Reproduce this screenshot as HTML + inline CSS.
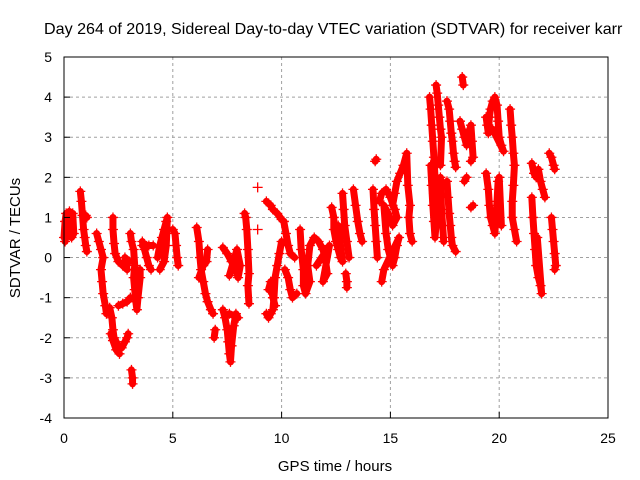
<!DOCTYPE html>
<html><head><meta charset="utf-8"><style>
body{margin:0;background:#fff;overflow:hidden}
svg{display:block;font-family:"Liberation Sans",sans-serif}
</style></head><body>
<svg id="chart" width="640" height="480" viewBox="0 0 640 480">
<rect width="640" height="480" fill="#fff"/>
<text x="44" y="34" font-size="16.1" fill="#000">Day 264 of 2019, Sidereal Day-to-day VTEC variation (SDTVAR) for receiver karr</text>
<g id="grid"></g>
<g id="marks"></g>
<rect x="64" y="57" width="544" height="361" fill="none" stroke="#000" stroke-width="1"/>
<g id="ticks"></g>
<text x="335" y="471" font-size="15" text-anchor="middle">GPS time / hours</text>
<text transform="translate(20,238) rotate(-90)" font-size="15" text-anchor="middle">SDTVAR / TECUs</text>
</svg>
<script>
const xTicks=[0,5,10,15,20,25];
const yTicks=[-4,-3,-2,-1,0,1,2,3,4,5];
// each track: array of [hour, sdtvar]
const tracks=[
[[0,0.5],[0.05,0.9],[0.1,1.1],[0.2,1.0],[0.3,0.8],[0.4,1.1],[0.45,0.6],[0.35,0.5],[0.15,0.6],[0.25,1.15],[0.05,0.4]],
[[0.75,1.65],[0.8,1.4],[0.85,1.05],[0.9,0.7],[0.95,0.5],[1.0,0.3],[1.05,0.15]],
[[1.0,1.05],[1.05,1.0]],
[[1.5,0.6],[1.6,0.4],[1.7,0.2],[1.8,0.0],[1.7,-0.3],[1.75,-0.6],[1.8,-0.9],[1.9,-1.2],[1.95,-1.4]],
[[2.1,-1.25],[2.2,-1.5],[2.25,-1.8],[2.3,-2.0],[2.4,-2.1],[2.5,-2.3],[2.65,-2.25],[2.8,-2.1],[2.9,-2.0],[2.95,-1.9]],
[[2.15,-1.9],[2.25,-2.07],[2.4,-2.3],[2.55,-2.4]],
[[2.25,1.0],[2.25,0.7],[2.3,0.35],[2.35,0.1],[2.5,-0.1],[2.7,-0.2],[2.9,-0.3],[2.8,0.0],[3.0,-0.1]],
[[2.5,-1.2],[2.7,-1.15],[2.9,-1.1],[3.05,-1.0]],
[[3.05,0.6],[3.1,0.4],[3.2,0.2],[3.25,-0.2],[3.2,-0.5],[3.25,-0.8],[3.3,-1.1],[3.35,-1.3],[3.4,-1.0],[3.5,-0.5],[3.5,-0.3]],
[[3.1,-2.8],[3.15,-3.0],[3.15,-3.15]],
[[3.6,0.4],[3.7,0.2],[3.8,0.0],[3.9,-0.2],[4.0,-0.3]],
[[3.6,0.3],[3.9,0.3],[4.1,0.3]],
[[4.3,0.0],[4.4,0.3],[4.5,0.5],[4.6,0.7],[4.7,0.9],[4.75,1.0],[4.7,0.3],[4.6,-0.1],[4.4,-0.3]],
[[5.0,0.7],[5.1,0.6],[5.15,0.3],[5.2,0.0],[5.25,-0.2]],
[[6.1,0.75],[6.2,0.4],[6.25,0.0],[6.3,-0.3],[6.4,-0.6],[6.5,-0.9],[6.6,-1.1],[6.75,-1.3],[6.85,-1.4]],
[[6.2,-0.5],[6.4,-0.2],[6.55,-0.1],[6.6,0.2]],
[[6.9,-2.0],[6.95,-1.8]],
[[7.3,0.25],[7.5,0.1],[7.7,-0.1],[7.9,-0.3],[8.0,-0.5],[8.1,-0.2],[7.95,0.2],[7.6,-0.45]],
[[7.3,-1.3],[7.4,-1.5],[7.5,-1.8],[7.55,-2.1],[7.6,-2.4],[7.65,-2.6],[7.7,-2.2],[7.8,-1.7],[7.9,-1.4],[8.0,-1.5],[7.6,-1.4]],
[[8.3,1.1],[8.35,1.0],[8.4,0.7],[8.45,0.2],[8.5,-0.4],[8.45,-0.7],[8.5,-1.15]],
[[8.9,1.75]],[[8.9,0.7]],
[[9.3,1.4],[9.4,1.35],[9.5,1.3],[9.6,1.2],[9.8,1.1],[10.0,0.95],[10.1,0.9]],
[[9.3,-1.4],[9.4,-1.5],[9.5,-1.4],[9.6,-1.3],[9.65,-1.0],[9.7,-0.5],[9.8,-0.2],[9.9,0.1],[10.0,0.4]],
[[9.4,-0.8],[9.5,-0.6],[9.6,-1.0],[9.7,-1.2]],
[[10.1,0.9],[10.2,0.6],[10.3,0.3],[10.4,0.1],[10.6,0.0]],
[[10.15,-0.3],[10.3,-0.5],[10.4,-0.8],[10.5,-1.0],[10.7,-0.9]],
[[10.85,0.7],[10.9,0.2],[11.0,-0.3],[11.0,-0.7],[11.1,-0.9],[11.3,-0.6],[11.2,-0.2],[11.3,0.3],[11.5,0.5],[11.7,0.4],[11.9,0.2],[12.0,0.0],[12.1,-0.4],[11.9,-0.6],[12.2,0.3],[11.6,-0.2]],
[[12.3,1.25],[12.4,1.0],[12.4,0.7],[12.5,0.4],[12.6,0.2],[12.7,0.0],[12.8,-0.1],[12.6,0.8]],
[[12.8,1.6],[12.85,1.2],[12.9,0.8],[13.0,0.4],[13.1,0.0]],
[[12.95,-0.4],[13.0,-0.6],[13.0,-0.75]],
[[13.3,1.7],[13.4,1.3],[13.5,0.9],[13.6,0.6],[13.7,0.4]],
[[14.3,2.4],[14.35,2.45]],
[[14.2,1.7],[14.25,1.2],[14.3,0.8],[14.35,0.4],[14.4,0.0]],
[[14.5,1.4],[14.6,1.6],[14.8,1.7],[15.0,1.5],[15.2,1.2],[15.3,1.0],[15.1,0.8],[14.9,1.1],[14.7,1.3],[14.8,0.6],[14.9,0.2],[15.0,0.0],[15.1,-0.2],[15.2,0.0],[15.3,0.3],[15.4,0.5],[14.7,-0.3],[14.6,-0.6]],
[[15.1,1.3],[15.2,1.6],[15.3,1.9],[15.45,2.1],[15.6,2.3],[15.75,2.6],[15.8,1.8],[15.9,1.3],[15.85,1.0],[15.9,0.6],[16.0,0.4]],
[[16.8,4.0],[16.85,3.7],[16.9,3.3],[16.95,2.9],[17.0,2.5],[17.05,2.0],[17.0,1.6],[17.05,1.3],[17.1,1.0]],
[[17.1,4.3],[17.15,4.1],[17.2,3.8],[17.25,3.5],[17.3,3.2],[17.35,3.0],[17.3,2.3]],
[[16.85,2.3],[16.9,1.8],[16.95,1.3],[17.0,0.9],[17.05,0.5],[17.2,1.5],[17.3,2.0],[17.35,1.2],[17.4,0.8],[17.45,0.4]],
[[17.6,3.9],[17.7,3.7],[17.75,3.4],[17.8,3.1],[17.85,2.9],[17.9,2.6],[17.95,2.4],[18.0,2.25]],
[[17.6,1.9],[17.65,1.5],[17.7,1.1],[17.75,0.8],[17.8,0.5],[17.85,0.3],[18.0,0.15]],
[[18.3,4.5],[18.35,4.3]],
[[18.2,3.4],[18.3,3.2],[18.4,3.0],[18.5,2.8],[18.6,3.1],[18.7,3.3],[18.75,2.9],[18.8,2.5],[18.7,2.4]],
[[18.4,1.9],[18.5,2.0]],[[18.7,1.25],[18.8,1.3]],
[[19.4,3.5],[19.45,3.3],[19.5,3.1],[19.55,3.5],[19.6,3.7],[19.7,3.9],[19.8,4.0],[19.9,3.8],[19.95,3.4],[20.0,3.0],[20.1,2.8],[20.2,2.65],[19.7,3.2]],
[[19.4,2.1],[19.5,1.7],[19.55,1.3],[19.6,1.0],[19.7,0.8],[19.8,0.6],[19.9,1.4],[19.95,1.9],[20.0,2.0],[20.1,0.8]],
[[20.5,3.7],[20.55,3.3],[20.6,3.0],[20.65,2.6],[20.7,2.3],[20.65,1.8],[20.6,1.4],[20.6,1.0],[20.7,0.7],[20.8,0.4]],
[[21.5,2.35],[21.6,2.1],[21.7,2.0],[21.8,2.2],[21.9,1.9],[22.0,1.7],[22.1,1.5]],
[[21.5,1.5],[21.55,1.0],[21.6,0.6],[21.65,0.2],[21.7,-0.2],[21.8,-0.5],[21.9,-0.7],[21.95,-0.9],[21.75,0.5]],
[[22.3,2.6],[22.4,2.5],[22.5,2.3],[22.55,2.2]],
[[22.4,1.0],[22.45,0.7],[22.5,0.4],[22.55,0.1],[22.6,-0.2],[22.55,-0.3]]
];
const NS='http://www.w3.org/2000/svg';
const L=64,R=608,T=57,B=418;
const xs=h=>L+(h-0)/25*(R-L);
const ys=v=>B-(v+4)/9*(B-T);
const grid=document.getElementById('grid'),ticks=document.getElementById('ticks'),marks=document.getElementById('marks');
function mk(tag,attrs,parent){const e=document.createElementNS(NS,tag);for(const k in attrs)e.setAttribute(k,attrs[k]);parent.appendChild(e);return e;}
xTicks.forEach(t=>{const x=xs(t);
 if(t>0&&t<25){const g=mk('line',{x1:x,x2:x,y1:T,y2:B,stroke:'#a0a0a0','stroke-dasharray':'3,3'},grid);
 }
 const tk=mk('line',{x1:x,x2:x,y1:B,y2:B-6,stroke:'#000'},ticks);
 
 const lb=mk('text',{x:x,y:443,'font-size':14,'text-anchor':'middle'},ticks);lb.textContent=t;
 });
yTicks.forEach(t=>{const y=ys(t);
 if(t>-4&&t<5){const g=mk('line',{x1:L,x2:R,y1:y,y2:y,stroke:'#a0a0a0','stroke-dasharray':'3,3'},grid);
 }
 const tk=mk('line',{x1:L,x2:L+6,y1:y,y2:y,stroke:'#000'},ticks);
 
 const lb=mk('text',{x:52,y:y+5,'font-size':14,'text-anchor':'end'},ticks);lb.textContent=t;
 });
tracks.forEach(tr=>{
 if(tr.length>1){const pl=mk('polyline',{points:tr.map(p=>xs(p[0])+','+ys(p[1])).join(' '),fill:'none',stroke:'#ff0000','stroke-width':7,'stroke-linejoin':'round','stroke-linecap':'round'},marks);
 }
 tr.forEach(p=>{const x=xs(p[0]),y=ys(p[1]);
  const pt=mk('path',{d:`M${x-5},${y}H${x+5}M${x},${y-5}V${y+5}`,stroke:'#ff0000','stroke-width':1.3},marks);
  });
});
</script>
</body></html>
